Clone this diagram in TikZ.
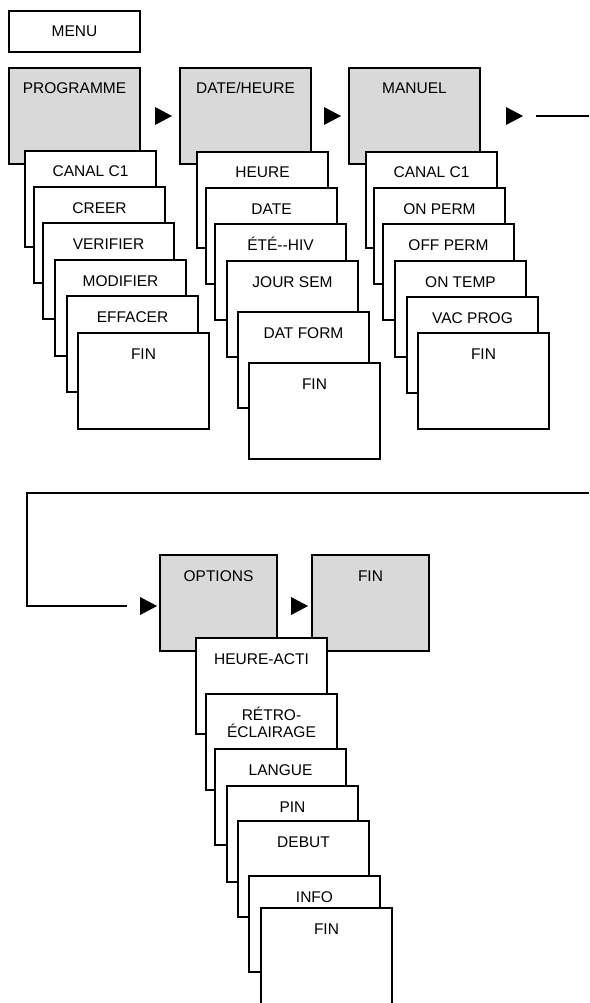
\documentclass[tikz,border=0pt]{standalone}
\usepackage{fontspec}
\setmainfont{Liberation Sans}
\usepackage{xcolor}
\usepackage{tikz}
\usetikzlibrary{shapes.geometric, arrows.meta, positioning, calc}
\definecolor{menugray}{HTML}{D9D9D9}
\tikzstyle{menunode} = [draw, rectangle, anchor=north west, line width=1.4pt, outer sep=0pt, minimum width=131pt, minimum height=41pt, text height=11pt, text depth=0pt, font=\fontsize{15.5}{17}\selectfont]
\tikzstyle{subbox} = [draw, rectangle, anchor=north west, line width=1.4pt, outer sep=0pt, fill=white, minimum width=131pt, inner ysep=14.5pt, text height=11.5pt, text depth=55.5pt, align=center, font=\fontsize{15.5}{17}\selectfont]
\tikzstyle{mainbox} = [subbox, fill=menugray]
\tikzstyle{tri} = [isosceles triangle, isosceles triangle stretches, fill=black, inner sep=0pt, outer sep=0pt, minimum width=18pt, minimum height=17pt]
\tikzstyle{link} = [line width=1.3pt]

\begin{document}
\begin{tikzpicture}[x=1pt, y=1pt]
    \useasboundingbox (0,0) rectangle (589,-1003);

    \node (menu) [menunode] at (9,-11) {MENU};

    \node (prog) [mainbox] at (9,-68) {PROGRAMME};
    \node (date) [mainbox] at (180,-68) {DATE/HEURE};
    \node (manu) [mainbox] at (349,-68) {MANUEL};

    \node (tri1) [tri, right=15pt of prog] {};
    \node (tri2) [tri, right=13pt of date] {};
    \node (tri3) [tri, right=26pt of manu] {};

    % PROGRAMME
    \node (pc1) [subbox] at ($(prog.north west)+(16,-83)$) {CANAL C1};
    \node (pc2) [subbox] at ($(pc1.north west)+(9,-36)$) {CREER};
    \node (pc3) [subbox] at ($(pc2.north west)+(9,-36)$) {VERIFIER};
    \node (pc4) [subbox] at ($(pc3.north west)+(12,-37)$) {MODIFIER};
    \node (pc5) [subbox] at ($(pc4.north west)+(12,-36)$) {EFFACER};
    \node (pc6) [subbox] at ($(pc5.north west)+(11,-37)$) {FIN};

    % DATE/HEURE
    \node (dh1) [subbox] at ($(date.north west)+(17,-84)$) {HEURE};
    \node (dh2) [subbox] at ($(dh1.north west)+(9,-36)$) {DATE};
    \node (dh3) [subbox] at ($(dh2.north west)+(9,-36)$) {ÉTÉ-{}-HIV};
    \node (dh4) [subbox] at ($(dh3.north west)+(12,-37)$) {JOUR SEM};
    \node (dh5) [subbox] at ($(dh4.north west)+(11,-51)$) {DAT FORM};
    \node (dh6) [subbox] at ($(dh5.north west)+(11,-51)$) {FIN};

    % MANUEL
    \node (mn1) [subbox] at ($(manu.north west)+(17,-84)$) {CANAL C1};
    \node (mn2) [subbox] at ($(mn1.north west)+(8,-36)$) {ON PERM};
    \node (mn3) [subbox] at ($(mn2.north west)+(9,-36)$) {OFF PERM};
    \node (mn4) [subbox] at ($(mn3.north west)+(12,-37)$) {ON TEMP};
    \node (mn5) [subbox] at ($(mn4.north west)+(12,-36)$) {VAC PROG};
    \node (mn6) [subbox] at ($(mn5.north west)+(11,-36)$) {FIN};

    \coordinate (edgeA) at (589,-116);
    \coordinate (edgeB) at (589,-493);
    \draw [link] ([xshift=13pt]tri3.east) -- (edgeA);

    % OPTIONS
    \node (tri4) [tri] at (145.5,-606) {};
    \node (opt) [mainbox, minimum width=117pt] at (160,-555) {OPTIONS};
    \node (tri5) [tri] at (296.5,-606) {};
    \node (fin) [mainbox, minimum width=117pt] at (312,-555) {FIN};

    \draw [link] (edgeB) -| ([xshift=-113pt]tri4.west) -- ([xshift=-13pt]tri4.west);

    \node (op1) [subbox] at ($(opt.north west)+(36,-83)$) {HEURE-ACTI};
    \node (op2) [subbox, text height=29pt, text depth=38pt] at ($(op1.north west)+(10,-56)$) {RÉTRO-\\ÉCLAIRAGE};
    \node (op3) [subbox] at ($(op2.north west)+(9,-55)$) {LANGUE};
    \node (op4) [subbox] at ($(op3.north west)+(12,-37)$) {PIN};
    \node (op5) [subbox] at ($(op4.north west)+(11,-35)$) {DEBUT};
    \node (op6) [subbox] at ($(op5.north west)+(11,-55)$) {INFO};
    \node (op7) [subbox] at ($(op6.north west)+(12,-32)$) {FIN};
\end{tikzpicture}
\end{document}
